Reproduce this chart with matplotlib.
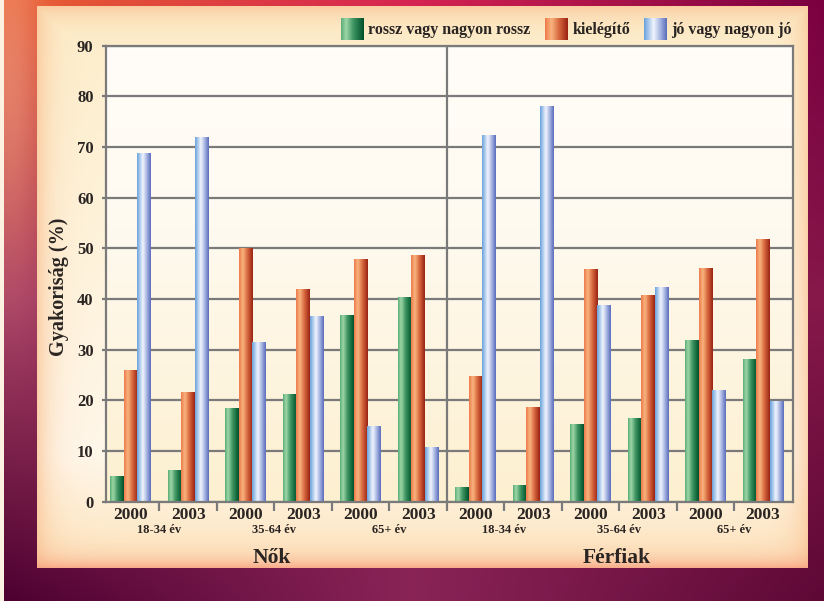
import numpy as np
import matplotlib
matplotlib.use('Agg')
import matplotlib.pyplot as plt
from matplotlib.colors import to_rgb
from matplotlib.transforms import blended_transform_factory

# ---------------- data ----------------
genders = ['Nők', 'Férfiak']
age_groups = ['18-34 év', '35-64 év', '65+ év']
years = ['2000', '2003']
series = ['rossz vagy nagyon rossz', 'kielégítő', 'jó vagy nagyon jó']
rossz = [5.0, 6.2, 18.5, 21.2, 36.9, 40.4, 2.9, 3.3, 15.3, 16.5, 31.9, 28.1]
kielegito = [26.0, 21.6, 50.1, 42.0, 47.9, 48.7, 24.8, 18.7, 45.9, 40.8, 46.1, 51.8]
jo = [68.8, 72.0, 31.5, 36.6, 14.9, 10.8, 72.4, 78.1, 38.8, 42.4, 22.0, 19.8]
y_ticks = [0, 10, 20, 30, 40, 50, 60, 70, 80, 90]
y_label = 'Gyakoriság (%)'

# ---------------- styles ----------------
FONT = ['Liberation Serif', 'DejaVu Serif']
plt.rcParams['font.family'] = FONT
plt.rcParams['font.weight'] = 'bold'
TXT = '#2a2522'
GRID = '#7a7a7a'

grad_stops = [
    [(0.0, '#5aae78'), (0.22, '#9fd6a8'), (0.55, '#3c9460'), (1.0, '#00502a')],
    [(0.0, '#ee7a4c'), (0.28, '#f9b47e'), (0.6, '#d86a40'), (1.0, '#9a2212')],
    [(0.0, '#6aa2dc'), (0.42, '#f2f5fd'), (0.7, '#a8b6e2'), (1.0, '#5a6cbc')],
]


def make_grad(stops, n=64):
    xs = np.linspace(0, 1, n)
    pos = [p for p, _ in stops]
    cols = np.array([to_rgb(c) for _, c in stops])
    arr = np.stack([np.interp(xs, pos, cols[:, k]) for k in range(3)], axis=-1)
    return arr[None, :, :]


W, H = 824, 601
fig = plt.figure(figsize=(W / 100, H / 100), dpi=100)

# ---------------- background frame ----------------
yy, xx = np.mgrid[0:H, 0:W].astype(float)
u = xx / (W - 1)
v = yy / (H - 1)
ctrl = np.array([[to_rgb('#e8602e'), to_rgb('#d62452'), to_rgb('#7a0040')],
                 [to_rgb('#a84064'), to_rgb('#8a2254'), to_rgb('#86184a')],
                 [to_rgb('#4c0030'), to_rgb('#8a2457'), to_rgb('#5e0836')]])


def bilin(u, v, ctrl):
    gu = u * 2
    gv = v * 2
    i = np.clip(np.floor(gv).astype(int), 0, 1)
    j = np.clip(np.floor(gu).astype(int), 0, 1)
    fu = (gu - j)[..., None]
    fv = (gv - i)[..., None]
    c00 = ctrl[i, j]
    c01 = ctrl[i, j + 1]
    c10 = ctrl[i + 1, j]
    c11 = ctrl[i + 1, j + 1]
    return (c00 * (1 - fu) * (1 - fv) + c01 * fu * (1 - fv)
            + c10 * (1 - fu) * fv + c11 * fu * fv)


img = bilin(u, v, ctrl)
# lighter salmon glow on upper-left border
glow = np.exp(-((xx - 10) ** 2 / 900 + (yy - 80) ** 2 / 30000))[..., None]
img = img * (1 - 0.5 * glow) + np.array(to_rgb('#f4a890')) * 0.5 * glow
img[:, :4] = to_rgb('#fdf3e2')

# inner panel
px0, px1, py0, py1 = 37, 808, 6, 568
base_top = np.array(to_rgb('#fdeecb'))
base_mid = np.array(to_rgb('#fff7ea'))
base_bot = np.array(to_rgb('#fde4bc'))
t = ((yy - py0) / (py1 - py0))[..., None]
panel = np.where(t < 0.8, base_top * (1 - t / 0.8) + base_mid * (t / 0.8),
                 base_mid * (1 - (t - 0.8) / 0.2) + base_bot * ((t - 0.8) / 0.2))
d_side = np.minimum(xx - px0, px1 - xx)
d_top = yy - py0
d_bot = py1 - yy
edge = np.array(to_rgb('#f9c090'))
w1 = np.exp(-np.minimum(d_side, d_top) / 14.0)[..., None] * 0.7
panel = panel * (1 - w1) + edge * w1
w2 = np.exp(-d_bot / 10.0)[..., None] * 0.9
panel = panel * (1 - w2) + np.array(to_rgb('#f8a080')) * w2
mask = (xx >= px0) & (xx < px1) & (yy >= py0) & (yy < py1)
img[mask] = panel[mask]

bg = fig.add_axes([0, 0, 1, 1], zorder=-10)
bg.imshow(np.clip(img, 0, 1), aspect='auto', extent=[0, 1, 0, 1], interpolation='bilinear')
bg.set_axis_off()

# ---------------- main axes ----------------
ax_l, ax_r = 106 / W, 793 / W
ax_b, ax_t = 1 - 501.5 / H, 1 - 45.7 / H
ax = fig.add_axes([ax_l, ax_b, ax_r - ax_l, ax_t - ax_b])
ax.set_facecolor('none')
ax.imshow(make_grad([(0, '#fdf0d0'), (0.6, '#fffaf0'), (1, '#fffdf9')], 64).transpose(1, 0, 2)[::-1],
          extent=[0.07, 12.02, 0, 90], aspect='auto', zorder=0, interpolation='bilinear')

n = len(rossz)
centers = np.arange(n) + 0.5
bw = 0.235
offsets = [-bw, 0.0, bw]
all_vals = [rossz, kielegito, jo]
for s, (vals, off) in enumerate(zip(all_vals, offsets)):
    bars = ax.bar(centers + off, vals, width=bw, color=grad_stops[s][1][1],
                  edgecolor='none', zorder=2)
    g = make_grad(grad_stops[s])
    for r in bars:
        x0, y0 = r.get_x(), r.get_y()
        im = ax.imshow(g, extent=[x0, x0 + r.get_width(), y0, y0 + r.get_height()],
                       aspect='auto', zorder=2.5, interpolation='bilinear')
        im.set_clip_path(r)

ax.set_xlim(0.07, 12.02)
ax.set_ylim(0, 90)

# grid and spines
ax.set_yticks(y_ticks)
ax.set_yticklabels([str(t) for t in y_ticks], fontsize=12, fontweight='bold', color=TXT)
ax.yaxis.grid(True, color=GRID, lw=1.6, zorder=1)
ax.axvline(6, color=GRID, lw=1.6, zorder=1)
for sp in ax.spines.values():
    sp.set_color(GRID)
    sp.set_linewidth(1.6)
    sp.set_zorder(3)
ax.tick_params(axis='y', length=3, width=1.6, color=GRID, pad=6)

ax.set_xticks(np.arange(1, n))
ax.set_xticklabels([])
ax.tick_params(axis='x', which='major', length=6.5, width=1.6, color=GRID)
ax.set_xticks(centers, minor=True)
ax.set_xticklabels([years[i % 2] for i in range(n)], minor=True,
                   fontsize=12.5, fontweight='bold', color=TXT)
ax.tick_params(axis='x', which='minor', length=0, pad=4)

trans = blended_transform_factory(ax.transData, ax.transAxes)
for k in range(n // 2):
    ax.text(2 * k + 1, -0.0625, age_groups[k % 3], transform=trans, ha='center', va='center',
            fontsize=9, fontweight='bold', color=TXT)
for gi, gname in enumerate(genders):
    ax.text(3 + 6 * gi - 0.05, -0.134, gname, transform=trans, ha='center', va='baseline',
            fontsize=15.5, fontweight='bold', color=TXT)

fig.text(59 / W, 1 - 287 / H, y_label, rotation=90, ha='center', va='center',
         fontsize=14.5, fontweight='bold', color=TXT)

# ---------------- legend ----------------
leg_boxes = [340.7, 545.3, 644.3]
for s in range(3):
    x0 = leg_boxes[s]
    lax = fig.add_axes([x0 / W, 1 - 40 / H, 22.6 / W, 22 / H])
    lax.imshow(make_grad(grad_stops[s]), aspect='auto', extent=[0, 1, 0, 1],
               interpolation='bilinear')
    lax.set_axis_off()
    fig.text((x0 + 27) / W, 1 - 30.5 / H, series[s], ha='left', va='center',
             fontsize=11.5, fontweight='bold', color=TXT)

fig.savefig('out.png', dpi=100)
